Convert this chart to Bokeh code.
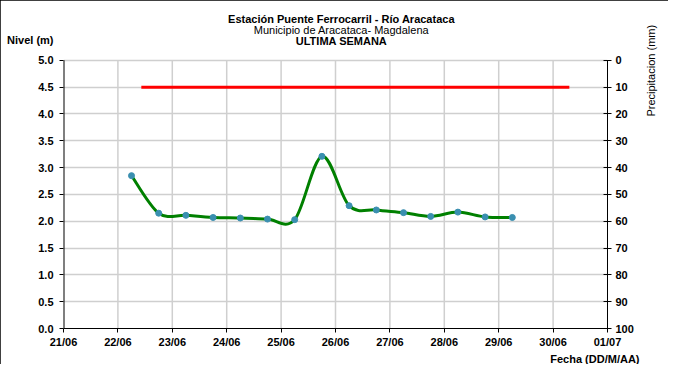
from datetime import datetime
import math
from bokeh.plotting import figure
from bokeh.models import (Range1d, LinearAxis, FixedTicker, DatetimeTickFormatter,
                          PrintfTickFormatter, Title, Label)
from bokeh.embed import file_html
from bokeh.resources import INLINE

# ---------------- data ----------------
level_times = ["2013-06-22 06:00", "2013-06-22 18:00", "2013-06-23 06:00", "2013-06-23 18:00",
               "2013-06-24 06:00", "2013-06-24 18:00", "2013-06-25 06:00", "2013-06-25 18:00",
               "2013-06-26 06:00", "2013-06-26 18:00", "2013-06-27 06:00", "2013-06-27 18:00",
               "2013-06-28 06:00", "2013-06-28 18:00", "2013-06-29 06:00"]
level_m = [2.85, 2.15, 2.11, 2.07, 2.06, 2.04, 2.03, 3.21, 2.29, 2.21, 2.16, 2.09, 2.17, 2.08, 2.07]

alert_times = ["2013-06-22 10:20", "2013-06-30 07:10"]
alert_m = [4.5, 4.5]

day_ticks = ["2013-06-21", "2013-06-22", "2013-06-23", "2013-06-24", "2013-06-25", "2013-06-26",
             "2013-06-27", "2013-06-28", "2013-06-29", "2013-06-30", "2013-07-01"]
level_ticks = [0.0, 0.5, 1.0, 1.5, 2.0, 2.5, 3.0, 3.5, 4.0, 4.5, 5.0]
precip_ticks = [0, 10, 20, 30, 40, 50, 60, 70, 80, 90, 100]

title_1 = "Estación Puente Ferrocarril - Río Aracataca"
title_2 = "Municipio de Aracataca- Magdalena"
title_3 = "ULTIMA SEMANA"
y_label = "Nivel (m)"
x_label = "Fecha (DD/M/AA)"
y2_label = "Precipitacion (mm)"

# ---------------- helpers ----------------
EPOCH = datetime(1970, 1, 1)
DAY = 86400000.0


def ms(s):
    fmt = "%Y-%m-%d %H:%M" if ":" in s else "%Y-%m-%d"
    return (datetime.strptime(s, fmt) - EPOCH).total_seconds() * 1000.0


lx = [ms(t) for t in level_times]
ax_ = [ms(t) for t in alert_times]
tx = [ms(t) for t in day_ticks]

FONT = "Liberation Sans"
W, H = 668, 364
FR_TOP, FR_BOT = 8, 329           # frame pixel rows (frame also holds the title block)
PX_PER_M = (FR_BOT - 60) / 5.0    # 5.0 m sits at pixel row 60
YTOP = (FR_BOT - FR_TOP) / PX_PER_M


def lvl(py):                      # pixel row -> level value inside the frame
    return (FR_BOT - py) / PX_PER_M


p = figure(width=W, height=H, output_backend="svg", toolbar_location=None,
           x_axis_type="datetime",
           x_range=Range1d(tx[0], tx[-1]), y_range=Range1d(0, YTOP),
           min_border_left=63, min_border_right=W - 607, min_border_top=FR_TOP,
           min_border_bottom=H - FR_BOT)
p.styles = {"outline": "3px solid black", "outline-offset": "-3px"}
p.outline_line_color = None
p.background_fill_color = "white"
p.border_fill_color = "white"

p.extra_y_ranges = {"precip": Range1d(100, 100 - 20 * YTOP)}

# ---- axes ----
xa = p.xaxis[0]
xa.ticker = FixedTicker(ticks=tx)
xa.formatter = DatetimeTickFormatter(days="%d/%m", months="%d/%m", hours="%d/%m")

NIVEL_Y = round(lvl(40), 3)
ya = p.yaxis[0]
# labels at the scale values plus the axis title; tick marks only on the scale values
ya.ticker = FixedTicker(ticks=level_ticks + [NIVEL_Y], minor_ticks=level_ticks)
ya.formatter = PrintfTickFormatter(format="%.1f")
ya.major_label_overrides = {NIVEL_Y: y_label}

ra = LinearAxis(y_range_name="precip", ticker=FixedTicker(ticks=precip_ticks),
                bounds=(precip_ticks[0], precip_ticks[-1]))
p.add_layout(ra, "right")

for a in (xa, ya, ra):
    a.axis_line_color = "black"
    a.axis_line_width = 1
    a.major_tick_line_color = "black"
    a.major_tick_out = 4
    a.major_tick_in = 0
    a.minor_tick_line_color = None
    a.major_label_text_font = FONT
    a.major_label_text_font_style = "bold"
    a.major_label_text_font_size = "11px"
    a.major_label_text_color = "black"
xa.major_label_standoff = 3
ya.axis_line_color = None
ya.major_tick_line_color = None
ya.minor_tick_line_color = "black"
ya.minor_tick_out = 4
ya.minor_tick_in = 0
ya.major_label_standoff = 6
ra.major_tick_in = 4
ra.major_label_standoff = 4

# right axis title, reading bottom-to-top near the top of the axis
ra.axis_label = "\u00a0" * 17 + y2_label
ra.axis_label_text_font = FONT
ra.axis_label_text_font_size = "11px"
ra.axis_label_text_font_style = "normal"
ra.axis_label_text_color = "black"
ra.axis_label_standoff = 14
props = ra.properties()
if "axis_label_orientation" in props:
    ra.axis_label_orientation = math.pi / 2
if "axis_label_align" in props:
    ra.axis_label_align = "center"

# ---- grid ----
p.ygrid.ticker = FixedTicker(ticks=level_ticks)
p.ygrid.grid_line_color = "#cfcfcf"
p.ygrid.grid_line_width = 1.5
p.xgrid.visible = False
inner = tx[1:-1]
p.segment(x0=inner, y0=[level_ticks[0]] * len(inner), x1=inner, y1=[level_ticks[-1]] * len(inner),
          line_color="#cfcfcf", line_width=1.5)
# left axis line (only over the 0-5 m scale)
p.segment(x0=[tx[0]], y0=[level_ticks[0]], x1=[tx[0]], y1=[level_ticks[-1]],
          line_color="black", line_width=2)

# ---- alert line ----
p.line(ax_, alert_m, line_color="#ff0000", line_width=3)

# ---- smoothed level line (Catmull-Rom style bezier, like Excel smoothing) ----
n = len(lx)
x0, y0, x1, y1, cx0, cy0, cx1, cy1 = [], [], [], [], [], [], [], []
for i in range(n - 1):
    ip = max(i - 1, 0)
    inn = min(i + 2, n - 1)
    x0.append(lx[i]); y0.append(level_m[i])
    x1.append(lx[i + 1]); y1.append(level_m[i + 1])
    cx0.append(lx[i] + (lx[i + 1] - lx[ip]) / 6.0)
    cy0.append(level_m[i] + (level_m[i + 1] - level_m[ip]) / 6.0)
    cx1.append(lx[i + 1] - (lx[inn] - lx[i]) / 6.0)
    cy1.append(level_m[i + 1] - (level_m[inn] - level_m[i]) / 6.0)
p.bezier(x0=x0, y0=y0, x1=x1, y1=y1, cx0=cx0, cy0=cy0, cx1=cx1, cy1=cy1,
         line_color="#008000", line_width=3)

p.scatter(lx, level_m, size=6, marker="circle", fill_color="#3a8fb0", line_color="#3a8fb0")

# ---- title block (inside the frame area, above the 5.0 m line) ----
xmid = tx[0] + (341 - 63) / 54.4 * DAY


def lab(y, text, style="bold"):
    p.add_layout(Label(x=xmid, y=y, text=text, text_font=FONT, text_font_size="11px",
                       text_font_style=style, text_align="center", text_baseline="middle",
                       text_color="black"))


lab(lvl(19), title_1)
lab(lvl(30), title_2, style="normal")
lab(lvl(41), title_3)

# ---- x axis title, right aligned below the axis ----
p.add_layout(Title(text=x_label, align="right", offset=-32, standoff=0,
                   text_font=FONT, text_font_size="11px", text_font_style="bold",
                   text_color="black"), "below")

open("out.html", "w").write(file_html(p, INLINE))
